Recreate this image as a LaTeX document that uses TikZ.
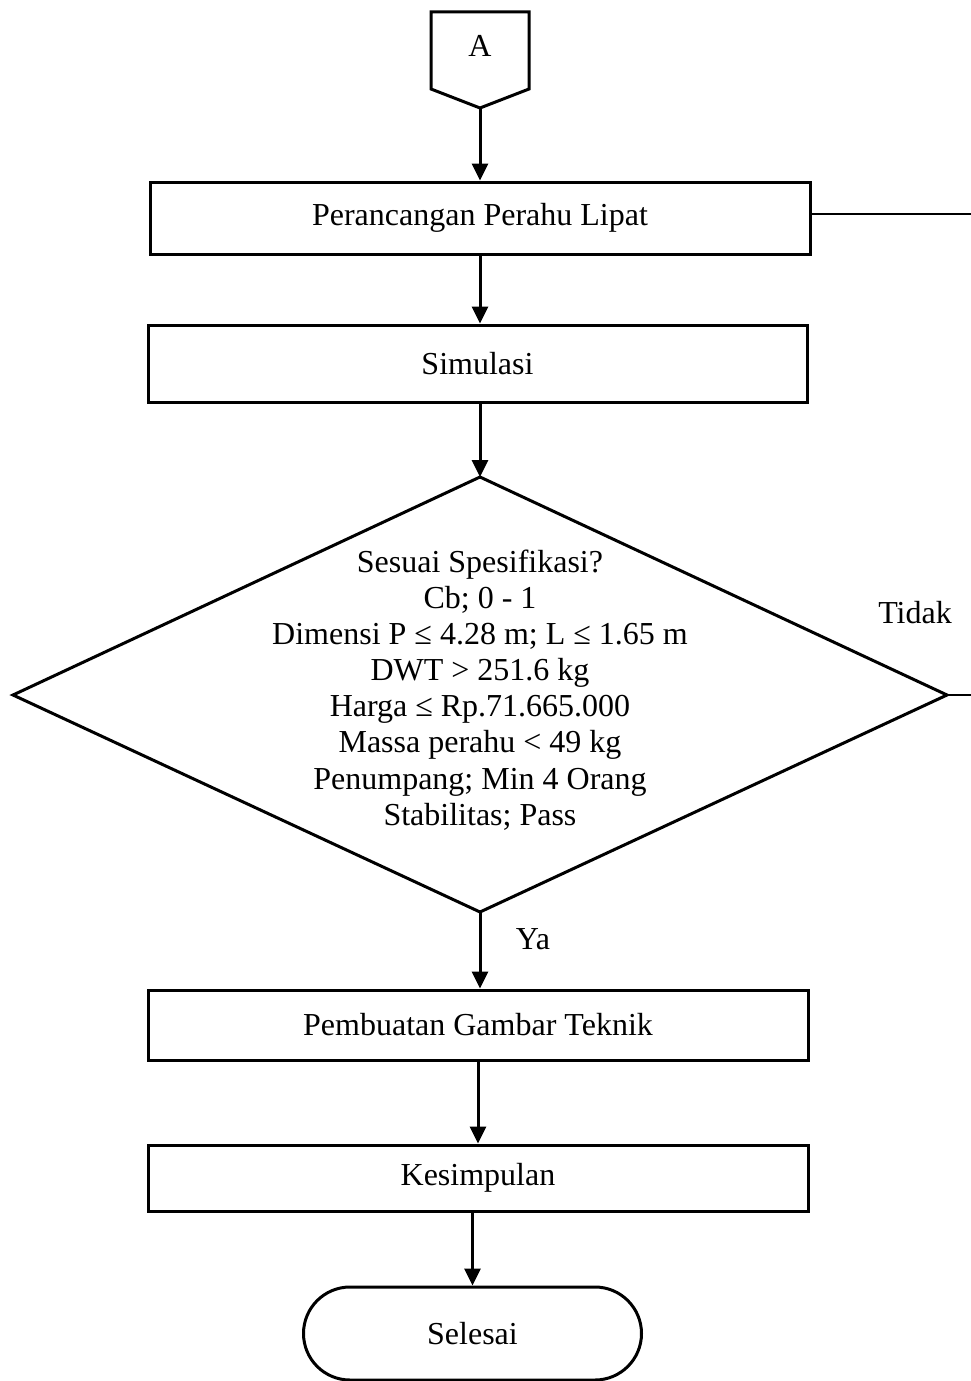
\documentclass[tikz,border=0pt]{standalone}
\usepackage{fontspec}
\setmainfont{Liberation Serif}
\usetikzlibrary{arrows.meta,shapes.misc}
\begin{document}
\begin{tikzpicture}[x=1pt,y=-1pt,
  every node/.style={font=\fontsize{32}{36}\selectfont},
  proc/.style={draw,line width=3pt,minimum width=660pt,inner sep=0pt},
  term/.style={draw,line width=3pt,rounded rectangle,minimum width=338pt,minimum height=93pt,inner sep=0pt},
  flow/.style={line width=3pt,-{Triangle[length=17pt,width=16pt]}},
  back/.style={line width=2pt},
  lbl/.style={inner sep=0pt}]
\useasboundingbox (0,0) rectangle (971,1381);
% off-page connector
\coordinate (Atl) at (431,12);
\coordinate (Atr) at (529,12);
\coordinate (Abot) at (480,108);
\draw[line width=3pt,line join=miter] (Atl) -- (Atr) -- (529,89) -- (Abot) -- (431,89) -- cycle;
\node[lbl] (A) at (480,46) {A};
% boxes
\node[proc,minimum height=72pt] (b1) at (480,218) {Perancangan Perahu Lipat};
\node[proc,minimum height=77pt,minimum width=659pt] (b2) at (477.5,363.5) {Simulasi};
% decision
\coordinate (dt) at (480,477);
\coordinate (dl) at (13,695);
\coordinate (dr) at (947,695);
\coordinate (db) at (480,912);
\draw[line width=3pt,line join=miter] (dt) -- (dr) -- (db) -- (dl) -- cycle;
\node[lbl,align=center,font=\fontsize{32}{36.1}\selectfont] (dtext) at (480,690) {Sesuai Spesifikasi?\\Cb; 0 - 1\\Dimensi P ≤ 4.28 m; L ≤ 1.65 m\\DWT > 251.6 kg\\Harga ≤ Rp.71.665.000\\Massa perahu < 49 kg\\Penumpang; Min 4 Orang\\Stabilitas; Pass};
\node[proc,minimum height=70pt] (b3) at (478,1025) {Pembuatan Gambar Teknik};
\node[proc,minimum height=66pt] (b4) at (478,1178) {Kesimpulan};
\node[term] (end) at (472.5,1333.5) {Selesai};
% labels
\node[lbl] (tidak) at (915,613) {Tidak};
\node[lbl] (ya) at (533,939) {Ya};
% feedback stubs
\coordinate (e1) at (971,214);
\coordinate (e2) at (971,695);
\draw[back] (b1.east |- e1) -- (e1);
\draw[back] (dr) -- (e2);
% flow arrows
\draw[flow] (Abot) -- (b1.north -| Abot);
\draw[flow] (b1.south -| Abot) -- (b2.north -| Abot);
\draw[flow] (b2.south -| Abot) -- (dt);
\draw[flow] (db) -- (b3.north -| db);
\draw[flow] (b3.south) -- (b4.north);
\draw[flow] (b4.south -| end.north) -- (end.north);
\end{tikzpicture}
\end{document}
